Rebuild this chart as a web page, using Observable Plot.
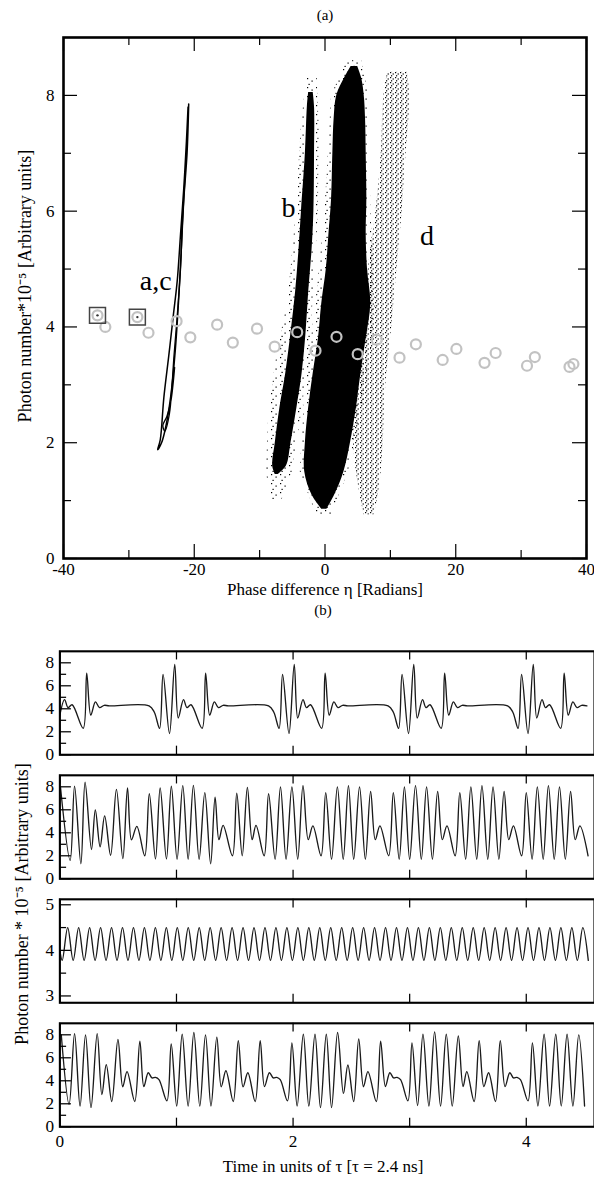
<!DOCTYPE html>
<html><head><meta charset="utf-8">
<script src="https://cdn.jsdelivr.net/npm/d3@7"></script>
<script src="https://cdn.jsdelivr.net/npm/@observablehq/plot@0.6"></script>
<style>
html,body{margin:0;padding:0;background:#fff;}
body{width:594px;height:1182px;overflow:hidden;font-family:"Liberation Serif","Times New Roman",serif;color:#000;}
#root{position:relative;width:594px;height:1182px;overflow:hidden;}
.blk{position:absolute;left:0;}
.lbl{position:absolute;text-align:center;white-space:nowrap;}
</style></head><body><div id="root"></div>
<script>
const FONT = '"Liberation Serif","Times New Roman",serif';

// ---------- Panel (a) data ----------
const xMajorA = [-40, -20, 0, 20, 40];
const xMinorA = [-30, -10, 10, 30];
const yMajorA = [0, 2, 4, 6, 8];
const yMinorA = [1, 3, 5, 7];

const circX = [-33.6,-27.0,-22.7,-20.6,-16.5,-14.1,-10.4,-7.7,-4.25,-1.45,1.76,5.0,7.9,11.4,13.9,18.0,20.1,24.4,26.1,30.9,32.1,37.4,38.0];
const circY = [4.0,3.9,4.1,3.82,4.04,3.73,3.97,3.66,3.91,3.59,3.83,3.53,3.78,3.47,3.7,3.43,3.62,3.38,3.55,3.33,3.48,3.31,3.36];
const boxX = [-34.8, -28.7];
const boxY = [4.2, 4.17];

const curveA = [[-20.85,7.85],[-21.1,7.0],[-21.6,6.2],[-22.0,5.3],[-22.4,4.45],[-22.9,3.6],[-23.6,2.8],[-24.4,2.25],[-25.0,2.0],[-25.6,1.88],[-25.2,2.05],[-24.65,2.78],[-23.9,3.5],[-23.2,4.2],[-22.6,4.8],[-22.1,5.6],[-21.6,6.4],[-21.2,7.2],[-20.95,7.8]];
const curveC = [[-21.4,6.6],[-21.8,5.8],[-22.1,5.0],[-22.6,4.2],[-23.1,3.5],[-23.4,3.0],[-23.8,2.5],[-24.5,2.2],[-24.8,2.3],[-24.2,2.45],[-23.6,2.7],[-23.0,3.3]];

const cloudB = [{y:1.45,x1:-7.6,x2:-7.2},{y:1.6,x1:-8.0,x2:-5.9},{y:2.0,x1:-7.6,x2:-5.2},{y:2.6,x1:-6.9,x2:-4.3},{y:3.2,x1:-6.0,x2:-3.5},{y:3.9,x1:-5.2,x2:-2.9},{y:4.6,x1:-4.5,x2:-2.5},{y:5.3,x1:-4.0,x2:-2.0},{y:6.0,x1:-3.6,x2:-1.7},{y:7.0,x1:-3.0,x2:-1.6},{y:7.8,x1:-2.7,x2:-1.6},{y:8.05,x1:-2.5,x2:-1.8}];
const cloudMid = [{y:0.85,x1:-0.5,x2:0.3},{y:1.1,x1:-2.0,x2:1.5},{y:1.5,x1:-3.1,x2:2.9},{y:2.0,x1:-3.0,x2:3.9},{y:2.6,x1:-2.5,x2:4.8},{y:3.2,x1:-1.8,x2:5.5},{y:3.8,x1:-1.0,x2:6.3},{y:4.4,x1:-0.5,x2:7.0},{y:5.0,x1:0.2,x2:6.5},{y:5.6,x1:0.6,x2:6.3},{y:6.2,x1:1.0,x2:6.4},{y:7.0,x1:1.2,x2:6.3},{y:7.6,x1:1.4,x2:6.2},{y:8.0,x1:1.8,x2:6.0},{y:8.3,x1:3.0,x2:5.6},{y:8.5,x1:4.0,x2:5.0}];
const cloudD = [{y:0.75,x1:6.0,x2:7.5},{y:1.2,x1:5.2,x2:8.3},{y:2.0,x1:4.4,x2:8.9},{y:3.0,x1:5.0,x2:9.3},{y:4.0,x1:5.6,x2:10.2},{y:5.0,x1:6.6,x2:11.0},{y:6.0,x1:7.8,x2:11.8},{y:7.0,x1:8.6,x2:12.4},{y:8.0,x1:9.0,x2:13.0},{y:8.4,x1:9.6,x2:12.6}];
const fringeB = [{y:1.0,x1:-8.2,x2:-6.6},{y:1.5,x1:-9.0,x2:-5.0},{y:2.5,x1:-8.6,x2:-3.6},{y:3.5,x1:-7.4,x2:-2.4},{y:4.5,x1:-5.6,x2:-1.8},{y:6.0,x1:-4.4,x2:-1.0},{y:7.5,x1:-3.6,x2:-0.9},{y:8.3,x1:-2.8,x2:-1.2}];
const fringeMid = [{y:0.75,x1:-1.3,x2:1.0},{y:1.5,x1:-3.8,x2:3.6},{y:3.0,x1:-3.0,x2:6.5},{y:4.4,x1:-1.4,x2:7.8},{y:6.0,x1:0.0,x2:7.0},{y:8.0,x1:1.0,x2:6.8},{y:8.6,x1:3.4,x2:5.6}];

const tagText = ["a,c", "b", "d"];
const tagX = [-25.9, -5.6, 15.6];
const tagY = [4.79, 6.05, 5.57];

// ---------- Panel (b) data ----------
const xTicksB = [0, 1, 2, 3, 4];
const xLabelsB = [0, 2, 4];
const yMajorB = [0, 2, 4, 6, 8];
const yMinorB = [1, 3, 5, 7];
const yMajor3 = [3, 4, 5];
const yMinor3 = [3.5, 4.5];

const P1 = [[-0.005,3.2],[0.04,4.8],[0.07,4.1],[0.105,4.35],[0.2,2.3],[0.23,7.1],[0.265,3.45],[0.305,4.6],[0.34,4.1],[0.38,4.3],[0.425,4.25],[0.765,4.25],[0.81,3.7],[0.855,2.3],[0.885,7.0],[0.94,1.85],[0.985,7.87],[1.015,3.2],[1.06,4.8],[1.09,4.1],[1.125,4.35],[1.22,2.3],[1.25,7.1],[1.285,3.45],[1.325,4.6],[1.36,4.1],[1.4,4.3],[1.445,4.25],[1.79,4.25],[1.835,3.7],[1.88,2.3],[1.91,7.0],[1.965,1.85],[2.01,7.87],[2.04,3.2],[2.085,4.8],[2.115,4.1],[2.15,4.35],[2.245,2.3],[2.275,7.1],[2.31,3.45],[2.35,4.6],[2.385,4.1],[2.425,4.3],[2.47,4.25],[2.815,4.25],[2.86,3.7],[2.905,2.3],[2.935,7.0],[2.99,1.85],[3.035,7.87],[3.065,3.2],[3.11,4.8],[3.14,4.1],[3.175,4.35],[3.27,2.3],[3.30,7.1],[3.335,3.45],[3.375,4.6],[3.41,4.1],[3.45,4.3],[3.495,4.25],[3.84,4.25],[3.885,3.7],[3.93,2.3],[3.96,7.0],[4.015,1.85],[4.06,7.87],[4.09,3.2],[4.135,4.8],[4.165,4.1],[4.20,4.35],[4.295,2.3],[4.325,7.1],[4.36,3.45],[4.40,4.6],[4.435,4.1],[4.475,4.3],[4.52,4.25]];

const P2 = [[0.005,8.0],[0.088,1.6],[0.126,8.06],[0.18,1.3],[0.216,8.4],[0.271,2.55],[0.304,6.0],[0.345,2.78],[0.384,5.47],[0.435,2.05],[0.485,7.78],[0.54,1.75],[0.58,7.9],[0.614,3.39],[0.66,4.56],[0.728,2.0],[0.767,7.4],[0.82,1.72],[0.86,7.9],[0.914,1.72],[0.956,8.05],[1.005,1.7],[1.054,8.1],[1.1,1.7],[1.145,8.13],[1.194,1.7],[1.243,7.5],[1.293,1.3],[1.331,7.1],[1.364,3.4],[1.40,4.65],[1.48,2.0],[1.517,7.45],[1.564,2.0],[1.608,7.95],[1.649,3.4],[1.682,4.65],[1.752,2.0],[1.79,7.4],[1.846,1.7],[1.892,8.0],[1.94,1.7],[1.99,8.0],[2.04,1.7],[2.085,8.1],[2.13,3.4],[2.17,4.6],[2.24,2.0],[2.28,7.5],[2.33,1.7],[2.38,8.0],[2.43,1.7],[2.475,8.1],[2.52,1.7],[2.57,8.0],[2.62,1.7],[2.665,7.6],[2.705,3.4],[2.745,4.6],[2.82,2.0],[2.86,7.5],[2.91,1.7],[2.955,8.0],[3.0,1.7],[3.05,8.1],[3.1,1.7],[3.145,8.0],[3.195,1.7],[3.24,7.6],[3.28,3.4],[3.32,4.6],[3.39,2.0],[3.43,7.5],[3.48,1.7],[3.525,8.0],[3.575,1.7],[3.62,8.1],[3.67,1.7],[3.715,8.0],[3.765,1.7],[3.81,7.6],[3.85,3.4],[3.89,4.6],[3.96,2.0],[4.0,7.5],[4.05,1.7],[4.095,8.0],[4.145,1.7],[4.19,8.1],[4.24,1.7],[4.285,8.0],[4.335,1.7],[4.38,7.6],[4.42,3.4],[4.46,4.6],[4.53,2.0]];

const P3t = [0.0,0.020,0.067,0.114,0.161,0.208,0.255,0.302,0.349,0.396,0.443,0.490,0.537,0.584,0.631,0.678,0.725,0.772,0.819,0.866,0.913,0.960,1.007,1.054,1.101,1.148,1.195,1.242,1.289,1.336,1.383,1.430,1.477,1.524,1.571,1.618,1.665,1.712,1.759,1.806,1.853,1.900,1.947,1.994,2.041,2.088,2.135,2.182,2.229,2.276,2.323,2.370,2.417,2.464,2.511,2.558,2.605,2.652,2.699,2.746,2.793,2.840,2.887,2.934,2.981,3.028,3.075,3.122,3.169,3.216,3.263,3.310,3.357,3.404,3.451,3.498,3.545,3.592,3.639,3.686,3.733,3.780,3.827,3.874,3.921,3.968,4.015,4.062,4.109,4.156,4.203,4.250,4.297,4.344,4.391,4.438,4.485,4.532];
const P3v = [4.0,3.78,4.5,3.78,4.5,3.78,4.5,3.78,4.5,3.78,4.5,3.78,4.5,3.78,4.5,3.78,4.5,3.78,4.5,3.78,4.5,3.78,4.5,3.78,4.5,3.78,4.5,3.78,4.5,3.78,4.5,3.78,4.5,3.78,4.5,3.78,4.5,3.78,4.5,3.78,4.5,3.78,4.5,3.78,4.5,3.78,4.5,3.78,4.5,3.78,4.5,3.78,4.5,3.78,4.5,3.78,4.5,3.78,4.5,3.78,4.5,3.78,4.5,3.78,4.5,3.78,4.5,3.78,4.5,3.78,4.5,3.78,4.5,3.78,4.5,3.78,4.5,3.78,4.5,3.78,4.5,3.78,4.5,3.78,4.5,3.78,4.5,3.78,4.5,3.78,4.5,3.78,4.5,3.78,4.5,3.78,4.5,3.78];

const P4 = [[0.012,8.0],[0.079,1.95],[0.126,8.1],[0.173,1.8],[0.22,8.0],[0.267,1.67],[0.32,8.1],[0.36,2.8],[0.398,5.4],[0.445,2.2],[0.498,7.6],[0.539,3.48],[0.576,4.8],[0.642,2.2],[0.686,7.45],[0.72,3.5],[0.758,4.7],[0.79,4.25],[0.82,4.3],[0.85,4.1],[0.918,2.25],[0.955,7.2],[1.002,1.8],[1.049,8.05],[1.1,1.8],[1.149,8.2],[1.2,1.8],[1.249,8.0],[1.296,1.8],[1.346,7.8],[1.384,3.48],[1.424,4.87],[1.487,2.2],[1.53,7.5],[1.571,3.48],[1.612,4.7],[1.675,2.2],[1.718,7.5],[1.755,3.5],[1.797,4.7],[1.83,4.25],[1.86,4.3],[1.89,4.1],[1.952,2.25],[1.99,7.3],[2.035,1.8],[2.088,8.05],[2.135,1.8],[2.188,8.05],[2.235,1.67],[2.285,8.05],[2.33,1.67],[2.382,8.2],[2.432,2.9],[2.47,5.37],[2.52,2.2],[2.563,7.65],[2.604,3.48],[2.642,4.8],[2.714,2.2],[2.751,7.45],[2.792,3.5],[2.83,4.7],[2.862,4.25],[2.892,4.3],[2.922,4.1],[2.985,2.25],[3.02,7.3],[3.068,1.85],[3.114,8.05],[3.165,1.8],[3.214,8.25],[3.265,1.8],[3.314,8.05],[3.365,1.8],[3.417,7.9],[3.458,3.5],[3.49,4.8],[3.553,2.2],[3.596,7.5],[3.636,3.5],[3.677,4.7],[3.736,2.2],[3.777,7.5],[3.818,3.5],[3.859,4.7],[3.89,4.25],[3.92,4.3],[3.95,4.1],[4.015,2.25],[4.053,7.3],[4.1,1.8],[4.153,8.05],[4.2,1.8],[4.253,8.05],[4.3,1.8],[4.35,8.05],[4.40,1.8],[4.45,8.0],[4.5,1.8]];

const root = document.getElementById("root");
function place(el, top) { el.classList.add("blk"); el.style.top = top + "px"; root.appendChild(el); }
function label(text, cx, cy, size, rotate) {
  const d = document.createElement("div");
  d.className = "lbl"; d.textContent = text;
  d.style.fontSize = size + "px"; d.style.width = "400px"; d.style.height = "20px"; d.style.lineHeight = "20px";
  d.style.left = (cx - 200) + "px"; d.style.top = (cy - 10) + "px";
  if (rotate) d.style.transform = "rotate(" + rotate + "deg)";
  root.appendChild(d);
}

// ---------- Panel (a) ----------
const WA = 594, MLA = 63, MRA = 8, MTA = 5, MBA = 50, HA = 576;
const pwA = WA - MLA - MRA, phA = HA - MTA - MBA;
const pts = (xs, ys) => xs.map((x, i) => ({x, y: ys[i]}));
const circles = pts(circX, circY), boxes = pts(boxX, boxY);
const tags = tagText.map((t, i) => ({t, x: tagX[i], y: tagY[i]}));
const num = d => String(d);

const plotA = Plot.plot({
  width: WA, height: HA, marginLeft: MLA, marginRight: MRA, marginTop: MTA, marginBottom: MBA,
  x: {domain: [-40, 40], axis: null}, y: {domain: [0, 9], axis: null},
  style: {fontFamily: FONT, fontSize: "17px", background: "white", color: "black"},
  marks: [
    Plot.areaX(fringeB, {y: "y", x1: "x1", x2: "x2", fill: "url(#sparse)"}),
    Plot.areaX(fringeMid, {y: "y", x1: "x1", x2: "x2", fill: "url(#sparse)"}),
    Plot.areaX(cloudD, {y: "y", x1: "x1", x2: "x2", fill: "url(#medium)", curve: "catmull-rom"}),
    Plot.areaX(cloudB, {y: "y", x1: "x1", x2: "x2", fill: "black", curve: "catmull-rom"}),
    Plot.areaX(cloudMid, {y: "y", x1: "x1", x2: "x2", fill: "black", curve: "catmull-rom"}),
    Plot.line(curveA, {x: d => d[0], y: d => d[1], curve: "catmull-rom", stroke: "black", strokeWidth: 1.5}),
    Plot.line(curveC, {x: d => d[0], y: d => d[1], curve: "catmull-rom", stroke: "black", strokeWidth: 1.3}),
    Plot.dot(circles, {x: "x", y: "y", r: 5, stroke: "#c2c2c2", strokeWidth: 2.2, fill: "none"}),
    Plot.dot(boxes, {x: "x", y: "y", symbol: "square", r: 9, stroke: "#444", strokeWidth: 1.5, fill: "none"}),
    Plot.dot(boxes, {x: "x", y: "y", r: 5, stroke: "#c2c2c2", strokeWidth: 2.2, fill: "none"}),
    Plot.dot(boxes, {x: "x", y: "y", r: 1.2, fill: "#333"}),
    Plot.text(tags, {x: "x", y: "y", text: "t", fontSize: 28}),
    Plot.tickX(xMajorA, {x: d => d, insetTop: phA - 14, strokeWidth: 1.2}),
    Plot.tickX(xMinorA, {x: d => d, insetTop: phA - 8, strokeWidth: 1.2}),
    Plot.tickX(xMajorA, {x: d => d, insetBottom: phA - 14, strokeWidth: 1.2}),
    Plot.tickX(xMinorA, {x: d => d, insetBottom: phA - 8, strokeWidth: 1.2}),
    Plot.tickY(yMajorA, {y: d => d, insetRight: pwA - 14, strokeWidth: 1.2}),
    Plot.tickY(yMinorA, {y: d => d, insetRight: pwA - 8, strokeWidth: 1.2}),
    Plot.tickY(yMajorA, {y: d => d, insetLeft: pwA - 14, strokeWidth: 1.2}),
    Plot.tickY(yMinorA, {y: d => d, insetLeft: pwA - 8, strokeWidth: 1.2}),
    Plot.text(xMajorA, {x: d => d, frameAnchor: "bottom", lineAnchor: "middle", textAnchor: "middle", dy: 11, text: num, fontSize: 17}),
    Plot.text(yMajorA, {y: d => d, frameAnchor: "left", dx: -9, textAnchor: "end", text: num, fontSize: 17}),
    Plot.text(["Phase difference η [Radians]"], {frameAnchor: "bottom", lineAnchor: "middle", textAnchor: "middle", dy: 31, text: d => d, fontSize: 17}),
    Plot.text(["Photon number*10⁻⁵ [Arbitrary units]"], {frameAnchor: "left", textAnchor: "middle", dx: -38, dy: -12, rotate: -90, text: d => d, fontSize: 18}),
    Plot.frame({strokeWidth: 2.6})
  ]
});
d3.select(plotA).insert("defs", ":first-child").html(
  '<pattern id="medium" width="5" height="5" patternUnits="userSpaceOnUse">' +
  '<rect x="0" y="0" width="1.2" height="1.2" fill="#000"/><rect x="2.6" y="1.4" width="1.2" height="1.2" fill="#000"/>' +
  '<rect x="1.0" y="3.2" width="1.2" height="1.2" fill="#000"/></pattern>' +
  '<pattern id="sparse" width="9" height="9" patternUnits="userSpaceOnUse">' +
  '<rect x="1" y="1" width="1.2" height="1.2" fill="#000"/><rect x="5.5" y="3.5" width="1.2" height="1.2" fill="#000"/>' +
  '<rect x="2.5" y="6.8" width="1.2" height="1.2" fill="#000"/></pattern>');

label("(a)", 325, 15, 15);
place(plotA, 32);

// ---------- Panel (b) ----------
const WB = 620, MLB = 62;
const xMaxB = 4.585;
function panel(series, yDom, yMaj, yMin, top, mb) {
  const MT = 4, PH = 108, H = MT + PH + mb, PW = WB - MLB;
  const marks = [
    Plot.line(series, {x: d => d[0], y: d => d[1], curve: "catmull-rom", stroke: "#1a1a1a", strokeWidth: 1.4, clip: true}),
    Plot.tickX(xTicksB, {x: d => d, insetTop: PH - 9, strokeWidth: 1.3}),
    Plot.tickX(xTicksB, {x: d => d, insetBottom: PH - 9, strokeWidth: 1.3}),
    Plot.tickY(yMaj, {y: d => d, insetRight: PW - 12, strokeWidth: 1.3}),
    Plot.tickY(yMin, {y: d => d, insetRight: PW - 7, strokeWidth: 1.3}),
    Plot.text(yMaj, {y: d => d, frameAnchor: "left", dx: -6, textAnchor: "end", text: num, fontSize: 18}),
    Plot.frame({strokeWidth: 2.2})
  ];
  if (mb > 20) marks.push(Plot.text(xLabelsB, {x: d => d, frameAnchor: "bottom", lineAnchor: "middle", textAnchor: "middle", dy: 15, text: num, fontSize: 18}));
  const p = Plot.plot({
    width: WB, height: H, marginLeft: MLB, marginRight: 0, marginTop: MT, marginBottom: mb,
    x: {domain: [0, xMaxB], axis: null}, y: {domain: yDom, axis: null},
    style: {fontFamily: FONT, fontSize: "18px", background: "transparent", color: "black"},
    marks
  });
  place(p, top);
}
label("(b)", 323, 610, 15);
panel(P1, [0, 9], yMajorB, yMinorB, 647, 12);
panel(P2, [0, 9], yMajorB, yMinorB, 771, 12);
panel(P3t.map((t, i) => [t, P3v[i]]), [2.85, 5.12], yMajor3, yMinor3, 895, 12);
panel(P4, [0, 9], yMajorB, yMinorB, 1019, 50);
label("Time in units of τ [τ = 2.4 ns]", 323, 1167, 17);
label("Photon number * 10⁻⁵ [Arbitrary units]", 22, 904, 18, -90);
</script></body></html>
